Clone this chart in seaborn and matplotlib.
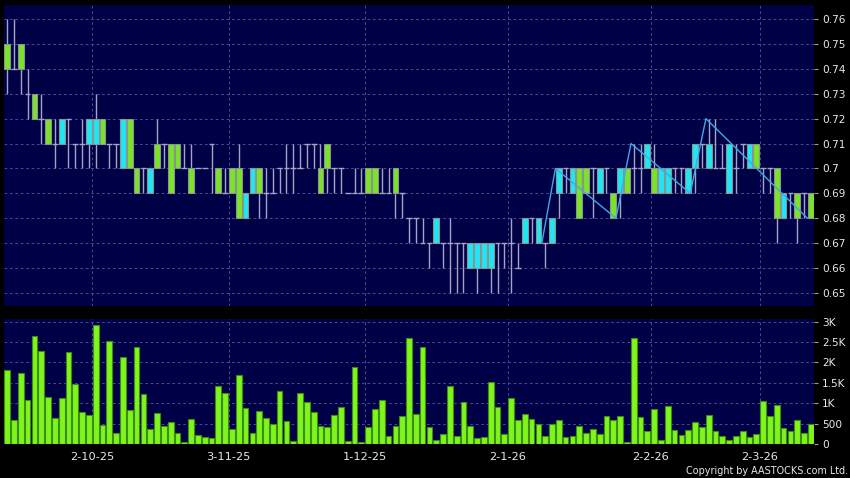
import numpy as np
import pandas as pd
import matplotlib
matplotlib.use("Agg")
import matplotlib.pyplot as plt
import seaborn as sns

# ---------------- data ----------------
open_ = [0.75,0.74,0.75,0.73,0.73,0.72,0.72,0.71,0.71,0.72,0.71,0.71,0.71,0.71,0.72,0.71,0.71,0.70,0.72,0.70,
         0.70,0.69,0.71,0.71,0.71,0.71,0.70,0.70,0.70,0.70,0.71,0.70,0.69,0.70,0.70,0.68,0.69,0.70,0.69,0.69,
         0.70,0.70,0.70,0.70,0.71,0.71,0.70,0.71,0.70,0.70,0.69,0.69,0.69,0.70,0.70,0.69,0.69,0.70,0.69,0.68,
         0.68,0.67,0.67,0.67,0.67,0.67,0.67,0.67,0.66,0.66,0.66,0.66,0.67,0.67,0.67,0.66,0.67,0.68,0.67,0.67,
         0.67,0.69,0.70,0.69,0.70,0.70,0.70,0.69,0.70,0.69,0.69,0.70,0.70,0.70,0.70,0.70,0.69,0.69,0.70,0.70,
         0.69,0.70,0.71,0.70,0.70,0.70,0.69,0.70,0.71,0.70,0.71,0.70,0.70,0.70,0.68,0.69,0.69,0.69,0.69]
high = [0.76,0.76,0.75,0.74,0.73,0.73,0.72,0.72,0.72,0.72,0.71,0.72,0.72,0.73,0.72,0.71,0.71,0.72,0.72,0.70,
        0.70,0.70,0.72,0.71,0.71,0.71,0.71,0.71,0.70,0.70,0.71,0.70,0.70,0.70,0.71,0.69,0.70,0.70,0.70,0.70,
        0.70,0.71,0.71,0.71,0.71,0.71,0.71,0.71,0.70,0.70,0.69,0.70,0.70,0.70,0.70,0.70,0.70,0.70,0.69,0.68,
        0.68,0.68,0.67,0.68,0.67,0.68,0.67,0.67,0.67,0.67,0.67,0.67,0.67,0.67,0.68,0.67,0.68,0.68,0.68,0.67,
        0.68,0.70,0.70,0.70,0.70,0.70,0.70,0.70,0.70,0.69,0.70,0.70,0.71,0.71,0.71,0.71,0.70,0.70,0.70,0.70,
        0.70,0.71,0.71,0.72,0.72,0.71,0.71,0.71,0.71,0.71,0.71,0.70,0.70,0.70,0.69,0.69,0.69,0.69,0.69]
low = [0.73,0.74,0.73,0.72,0.72,0.71,0.71,0.70,0.71,0.70,0.70,0.70,0.70,0.70,0.71,0.70,0.70,0.70,0.70,0.69,
       0.69,0.69,0.70,0.70,0.69,0.70,0.70,0.69,0.70,0.70,0.69,0.69,0.69,0.69,0.68,0.68,0.69,0.68,0.68,0.69,
       0.69,0.69,0.69,0.70,0.70,0.70,0.69,0.69,0.69,0.69,0.69,0.69,0.69,0.69,0.69,0.69,0.69,0.68,0.68,0.67,
       0.67,0.67,0.66,0.67,0.66,0.65,0.65,0.65,0.66,0.65,0.66,0.65,0.65,0.66,0.65,0.66,0.67,0.67,0.67,0.66,
       0.67,0.68,0.69,0.69,0.68,0.69,0.68,0.69,0.69,0.68,0.68,0.69,0.69,0.69,0.70,0.69,0.69,0.69,0.69,0.69,
       0.69,0.69,0.70,0.70,0.70,0.70,0.69,0.69,0.70,0.70,0.70,0.69,0.69,0.67,0.68,0.68,0.67,0.68,0.68]
close = [0.74,0.74,0.74,0.73,0.72,0.72,0.71,0.71,0.72,0.72,0.71,0.71,0.72,0.72,0.71,0.71,0.71,0.72,0.70,0.69,
         0.70,0.70,0.70,0.71,0.69,0.70,0.70,0.69,0.70,0.70,0.71,0.69,0.69,0.69,0.68,0.69,0.70,0.69,0.69,0.69,
         0.70,0.70,0.70,0.70,0.71,0.71,0.69,0.70,0.70,0.70,0.69,0.69,0.69,0.69,0.69,0.69,0.69,0.69,0.69,0.68,
         0.68,0.67,0.67,0.68,0.67,0.67,0.67,0.67,0.67,0.67,0.67,0.67,0.67,0.67,0.67,0.66,0.68,0.68,0.68,0.67,
         0.68,0.70,0.70,0.70,0.68,0.69,0.70,0.70,0.70,0.68,0.70,0.69,0.70,0.70,0.71,0.69,0.70,0.70,0.70,0.70,
         0.70,0.71,0.71,0.71,0.70,0.70,0.71,0.70,0.71,0.71,0.70,0.70,0.70,0.68,0.69,0.69,0.68,0.69,0.68]
volume = [1820,590,1740,1080,2640,2290,1160,640,1120,2260,1480,790,700,2910,460,2520,260,2130,840,2390,
          1230,360,750,450,540,260,60,610,220,160,150,1430,1250,370,1700,890,270,820,640,480,
          1300,560,70,1250,1020,790,430,410,700,910,80,1880,60,410,870,1070,200,440,690,2610,
          740,2390,410,110,250,1410,200,1040,430,140,180,1520,900,250,1120,600,730,620,480,200,
          480,590,160,200,430,280,380,250,690,590,680,60,2590,670,320,870,110,930,350,210,
          340,540,420,710,330,200,100,200,330,160,250,1050,690,960,400,310,600,260,490]

date_idx = [13, 33, 53, 74, 95, 111]
date_labels = ["2-10-25", "3-11-25", "1-12-25", "2-1-26", "2-2-26", "2-3-26"]

zz_idx = [78.5, 80.5, 89.4, 91.6, 100.3, 102.6, 117.5]
zz_price = [0.67, 0.70, 0.68, 0.71, 0.69, 0.72, 0.68]

price_ticks = [0.65, 0.66, 0.67, 0.68, 0.69, 0.70, 0.71, 0.72, 0.73, 0.74, 0.75, 0.76]
price_tick_labels = ["0.65", "0.66", "0.67", "0.68", "0.69", "0.7", "0.71", "0.72", "0.73", "0.74", "0.75", "0.76"]
vol_ticks = [0, 500, 1000, 1500, 2000, 2500, 3000]
vol_tick_labels = ["0", "500", "1K", "1.5K", "2K", "2.5K", "3K"]

# ---------------- style ----------------
sns.set_theme(style="dark")
plt.rcParams['font.family'] = ['DejaVu Sans']

BG = "#000000"
PANEL = "#000046"
GRID = "#50509a"
WICK = "#a4a4c4"
GREEN = "#7ce22a"
CYAN = "#1fe6f2"
BODY_EDGE = "#8a9490"
VOL = "#7ef51c"
VOL_EDGE = "#3c8c10"
TXT = "#e8e8e8"

df = pd.DataFrame({"open": open_, "high": high, "low": low, "close": close, "volume": volume})
df["idx"] = np.arange(len(df))
n = len(df)
xlim = (-0.47, n - 1 + 0.47)
bw = 0.84

fig = plt.figure(figsize=(8.5, 4.78), dpi=100, facecolor=BG)
ax = fig.add_axes([4 / 850, 1 - 306 / 478, 810 / 850, 301 / 478])
axv = fig.add_axes([4 / 850, 1 - 444 / 478, 810 / 850, 125 / 478])

for a in (ax, axv):
    a.set_facecolor(PANEL)
    for s in a.spines.values():
        s.set_visible(False)

# ---- price panel ----
doji = np.isclose(df["open"], df["close"])
ax.vlines(df["idx"], df["low"], df["high"], color=WICK, lw=1.0, zorder=2)
d = df[doji]
ax.hlines(d["open"], d["idx"] - bw / 2, d["idx"] + bw / 2, color=WICK, lw=1.0, zorder=2)
b = df[~doji]
colors = [GREEN if c < o else CYAN for o, c in zip(b["open"], b["close"])]
ax.bar(b["idx"], (b["close"] - b["open"]).abs(), bottom=np.minimum(b["open"], b["close"]),
       width=bw, color=colors, edgecolor=BODY_EDGE, linewidth=0.8, zorder=3)
sns.lineplot(x=zz_idx, y=zz_price, ax=ax, color="#3fa8e8", lw=1.0, zorder=4)

ax.set_xlim(*xlim)
ax.set_ylim(0.6448, 0.7656)
ax.set_yticks(price_ticks)
ax.set_yticklabels(price_tick_labels)
ax.yaxis.tick_right()
ax.set_xticks([i - 0.5 for i in date_idx])
ax.set_xticklabels([])
ax.tick_params(axis="x", length=0)
ax.tick_params(axis="y", colors="#9a9a9a", labelcolor=TXT, labelsize=7.6, length=3, width=0.8,
               direction="out", pad=3)
ax.grid(True, color=GRID, ls=(0, (3, 3)), lw=0.65)
ax.set_axisbelow(True)

# ---- volume panel ----
sns.barplot(data=df, x="idx", y="volume", ax=axv, color=VOL, saturation=1, width=bw,
            edgecolor=VOL_EDGE, linewidth=0.8, zorder=3)
axv.set_xlim(*xlim)
axv.set_ylim(0, 3065)
axv.set_yticks(vol_ticks)
axv.set_yticklabels(vol_tick_labels)
axv.yaxis.tick_right()
axv.set_xticks([i - 0.5 for i in date_idx])
axv.set_xticklabels(date_labels)
axv.set_xlabel("")
axv.set_ylabel("")
axv.tick_params(axis="y", colors="#9a9a9a", labelcolor=TXT, labelsize=7.6, length=3, width=0.8,
                direction="out", pad=3)
axv.tick_params(axis="x", colors="#9a9a9a", labelcolor=TXT, labelsize=8.2, length=3, width=0.8,
                direction="out", pad=3)
axv.grid(True, color=GRID, ls=(0, (3, 3)), lw=0.65)
axv.set_axisbelow(True)

fig.text(848 / 850, 1 - 471 / 478, "Copyright by AASTOCKS.com Ltd.", color=TXT, fontsize=6.9,
         ha="right", va="center")

fig.savefig("out.png", dpi=100, facecolor=BG)
